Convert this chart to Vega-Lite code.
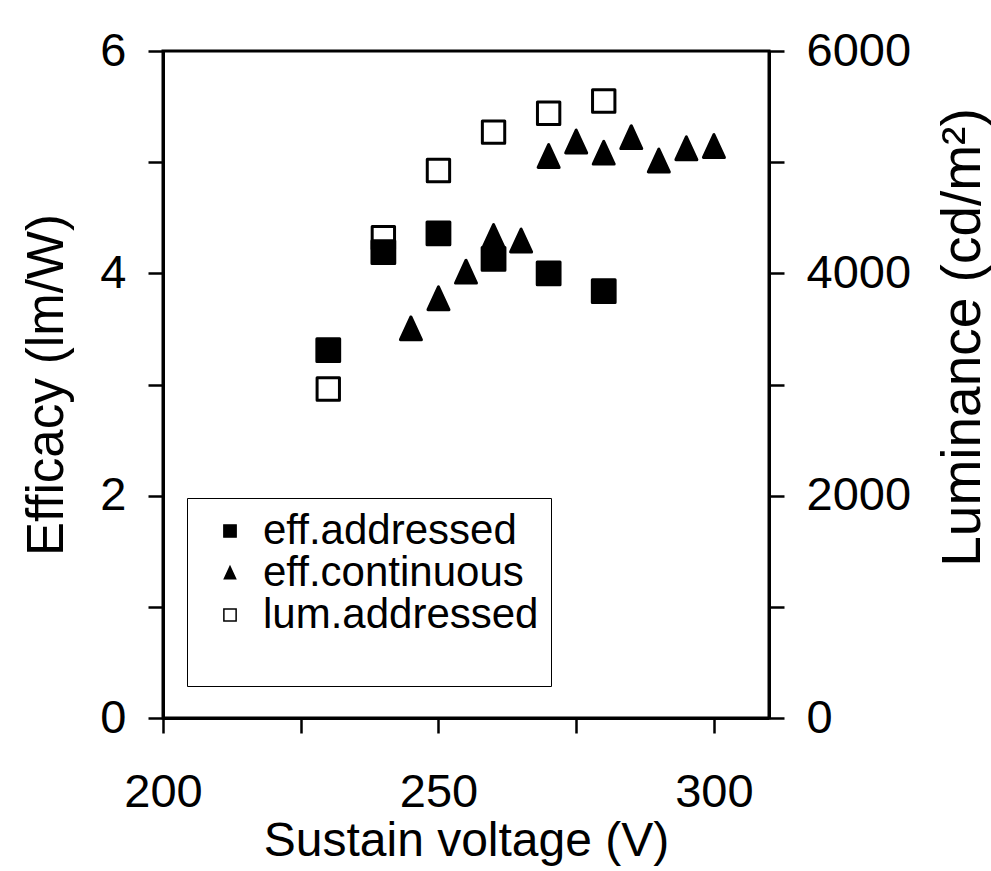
{
  "$schema": "https://vega.github.io/schema/vega-lite/v6.json",
  "autosize": {"type": "none"},
  "padding": {"left": 163, "top": 51, "right": 222, "bottom": 153},
  "width": 606,
  "height": 667,
  "background": "white",
  "config": {
    "font": "Liberation Sans",
    "view": {"stroke": "black", "strokeWidth": 3},
    "axis": {
      "grid": false,
      "labelFlush": false,
      "domainColor": "black",
      "domainWidth": 3,
      "tickColor": "black",
      "tickWidth": 2.5,
      "tickSize": 15,
      "labelFont": "Liberation Sans",
      "labelFontSize": 47,
      "labelColor": "black",
      "titleFont": "Liberation Sans",
      "titleFontSize": 48,
      "titleFontWeight": "normal",
      "titleColor": "black"
    },
    "legend": {
      "labelFont": "Liberation Sans",
      "labelColor": "black",
      "strokeColor": "black",
      "fillColor": "white",
      "padding": 12,
      "rowPadding": 0,
      "symbolStrokeColor": "black",
      "symbolStrokeWidth": 1.5
    }
  },
  "datasets": {
    "eff": [
      {"series": "eff.addressed", "V": 230, "eff": 3.31},
      {"series": "eff.addressed", "V": 240, "eff": 4.19},
      {"series": "eff.addressed", "V": 250, "eff": 4.36},
      {"series": "eff.addressed", "V": 260, "eff": 4.13},
      {"series": "eff.addressed", "V": 270, "eff": 4.0},
      {"series": "eff.addressed", "V": 280, "eff": 3.84},
      {"series": "eff.continuous", "V": 245, "eff": 3.5},
      {"series": "eff.continuous", "V": 250, "eff": 3.77},
      {"series": "eff.continuous", "V": 255, "eff": 4.01},
      {"series": "eff.continuous", "V": 260, "eff": 4.33},
      {"series": "eff.continuous", "V": 265, "eff": 4.29},
      {"series": "eff.continuous", "V": 270, "eff": 5.05},
      {"series": "eff.continuous", "V": 275, "eff": 5.18},
      {"series": "eff.continuous", "V": 280, "eff": 5.08},
      {"series": "eff.continuous", "V": 285, "eff": 5.22},
      {"series": "eff.continuous", "V": 290, "eff": 5.01},
      {"series": "eff.continuous", "V": 295, "eff": 5.12},
      {"series": "eff.continuous", "V": 300, "eff": 5.14}
    ],
    "lum": [
      {"series": "lum.addressed", "V": 230, "lum": 2960},
      {"series": "lum.addressed", "V": 240, "lum": 4320},
      {"series": "lum.addressed", "V": 250, "lum": 4925},
      {"series": "lum.addressed", "V": 260, "lum": 5270},
      {"series": "lum.addressed", "V": 270, "lum": 5440},
      {"series": "lum.addressed", "V": 280, "lum": 5550}
    ]
  },
  "layer": [
    {
      "data": {"name": "lum"},
      "mark": {"type": "point", "strokeWidth": 3, "strokeJoin": "round", "opacity": 1, "size": 500},
      "encoding": {
        "x": {"field": "V", "type": "quantitative", "scale": {"domain": [200, 310], "nice": false, "zero": false},
          "axis": {"values": [200, 225, 250, 275, 300], "labelExpr": "datum.value % 50 == 0 ? datum.label : ''", "labelPadding": 36, "title": "Sustain voltage (V)", "titlePadding": 2}},
        "y": {"field": "lum", "type": "quantitative", "scale": {"domain": [0, 6000], "nice": false},
          "axis": {"orient": "right", "values": [0, 1000, 2000, 3000, 4000, 5000, 6000], "format": "d", "labelExpr": "datum.value % 2000 == 0 ? datum.label : ''", "labelPadding": 22, "title": "Luminance (cd/m²)", "titleFontSize": 55, "titleAngle": 270, "titleBaseline": "top", "titleX": 167, "titleY": 286}},
        "shape": {"field": "series", "type": "nominal", "scale": {"domain": ["eff.addressed", "eff.continuous", "lum.addressed"], "range": ["square", "M0,-1.05L-0.92,0.95L0.92,0.95Z", "square"]},
          "legend": {"orient": "none", "legendX": 24, "legendY": 447, "title": " ", "titleOrient": "bottom", "titleFontSize": 31, "titlePadding": 8, "labelFontSize": 42, "labelLimit": 600, "symbolSize": 150, "symbolOffset": 10, "labelOffset": 12}},
        "fill": {"field": "series", "type": "nominal", "scale": {"domain": ["eff.addressed", "eff.continuous", "lum.addressed"], "range": ["black", "black", "white"]}, "legend": null},
        "stroke": {"field": "series", "type": "nominal", "scale": {"domain": ["eff.addressed", "eff.continuous", "lum.addressed"], "range": ["black", "black", "black"]}, "legend": null}
      }
    },
    {
      "data": {"name": "eff"},
      "mark": {"type": "point", "strokeWidth": 3, "strokeJoin": "round", "opacity": 1, "size": 520},
      "encoding": {
        "x": {"field": "V", "type": "quantitative"},
        "y": {"field": "eff", "type": "quantitative", "scale": {"domain": [0, 6], "nice": false},
          "axis": {"orient": "left", "values": [0, 1, 2, 3, 4, 5, 6], "labelExpr": "datum.value % 2 == 0 ? datum.label : ''", "labelPadding": 22, "title": "Efficacy (lm/W)", "titleFontSize": 51, "titlePadding": 26}},
        "shape": {"field": "series", "type": "nominal", "scale": {"domain": ["eff.addressed", "eff.continuous", "lum.addressed"], "range": ["square", "M0,-1.05L-0.92,0.95L0.92,0.95Z", "square"]}},
        "fill": {"field": "series", "type": "nominal", "scale": {"domain": ["eff.addressed", "eff.continuous", "lum.addressed"], "range": ["black", "black", "white"]}, "legend": null},
        "stroke": {"field": "series", "type": "nominal", "scale": {"domain": ["eff.addressed", "eff.continuous", "lum.addressed"], "range": ["black", "black", "black"]}, "legend": null}
      }
    }
  ],
  "resolve": {"scale": {"y": "independent"}}
}
